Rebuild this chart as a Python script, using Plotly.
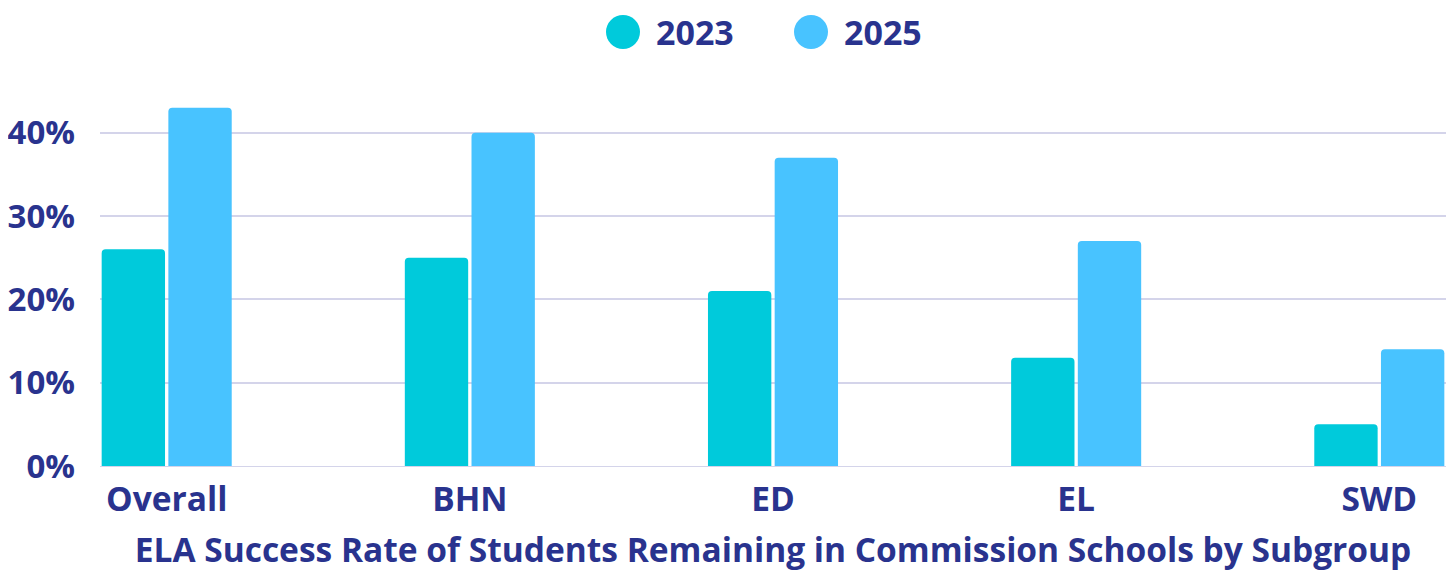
import plotly.graph_objects as go

categories = ["Overall", "BHN", "ED", "EL", "SWD"]
series_names = ["2023", "2025"]
values_2023 = [26, 25, 21, 13, 5]
values_2025 = [43, 40, 37, 27, 14]
tick_vals = [0, 10, 20, 30, 40]
tick_text = ["0%", "10%", "20%", "30%", "40%"]
x_title = "ELA Success Rate of Students Remaining in Commission Schools by Subgroup"

colors = ["#00CADB", "#48C3FF"]
navy = "#29338E"
font_family = "Open Sans, Noto Sans, sans-serif"

# The page body adds an 8px margin, so the figure is sized to fit the window
W, H = 1446, 564
ML, MR, MT, MB = 92, 8, 83, 106
PW, PH = W - ML - MR, H - MT - MB

fig = go.Figure()
for name, vals, col in zip(series_names, [values_2023, values_2025], colors):
    fig.add_trace(go.Bar(x=categories, y=vals, name=name, marker_color=col,
                         marker_line_width=0, showlegend=False))

# Legend drawn as large circles + labels, like the reference
legend_x_px = [615, 803]
legend_y_px = 24
r = 17
for name, col, cx in zip(series_names, colors, legend_x_px):
    fig.add_shape(type="circle", xref="paper", yref="paper",
                  x0=(cx - r - ML) / PW, x1=(cx + r - ML) / PW,
                  y0=(H - MB - legend_y_px - r) / PH, y1=(H - MB - legend_y_px + r) / PH,
                  fillcolor=col, line_width=0)
    fig.add_annotation(text=name, xref="paper", yref="paper", showarrow=False,
                       x=(cx + 31 - ML) / PW, xanchor="left",
                       y=(H - MB - legend_y_px) / PH, yanchor="middle",
                       font=dict(size=34, weight="bold", color=navy, family=font_family))

fig.update_layout(
    width=W, height=H,
    margin=dict(l=ML, r=MR, t=MT, b=MB),
    paper_bgcolor="white", plot_bgcolor="white",
    barmode="group", bargap=0.56, bargroupgap=0.05, barcornerradius=4,
    font=dict(family=font_family, color=navy, size=30),
    showlegend=False,
    xaxis=dict(range=[-0.22, 4.22], showgrid=False, showline=True, linecolor="#D4D4EA", linewidth=1,
               tickfont=dict(size=33.5, weight="bold"), ticks="", automargin=False,
               ticklabelstandoff=4,
               title=dict(text=x_title, font=dict(size=33.5, weight="bold"), standoff=19)),
    yaxis=dict(range=[0, 45], tickvals=tick_vals, ticktext=tick_text, showgrid=True,
               gridcolor="#D4D4EA", gridwidth=1.5, zeroline=False, automargin=False,
               tickfont=dict(size=33, weight="bold"), ticks="", ticklabelstandoff=24),
)

fig.write_html("out.html")
